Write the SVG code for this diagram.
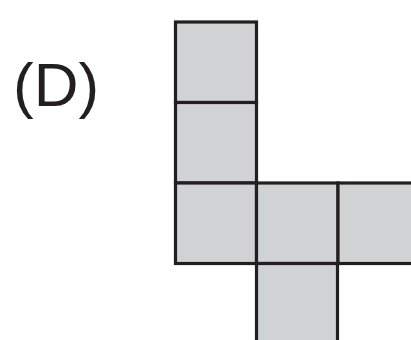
<svg xmlns="http://www.w3.org/2000/svg" width="411" height="340" viewBox="0 0 411 340">
<style>
.sq{fill:#d1d2d4;stroke:#231f20;stroke-width:3.2}
.lbl{font-family:"Liberation Sans",Arial,sans-serif;font-size:62px;fill:#231f20}
</style>
<rect width="411" height="340" fill="#fff"/>
<g id="label"><text class="lbl" x="13" y="106">(D)</text></g>
<g id="sq1"><rect class="sq" x="175.5" y="22" width="81" height="80.5"/></g>
<g id="sq2"><rect class="sq" x="175.5" y="102.5" width="81" height="80.5"/></g>
<g id="sq3"><rect class="sq" x="175.5" y="183" width="81" height="80.5"/></g>
<g id="sq4"><rect class="sq" x="256.5" y="183" width="81.5" height="80.5"/></g>
<g id="sq5"><rect class="sq" x="338" y="183" width="90" height="80.5"/></g>
<g id="sq6"><rect class="sq" x="256.5" y="263.5" width="81" height="90"/></g>
</svg>
